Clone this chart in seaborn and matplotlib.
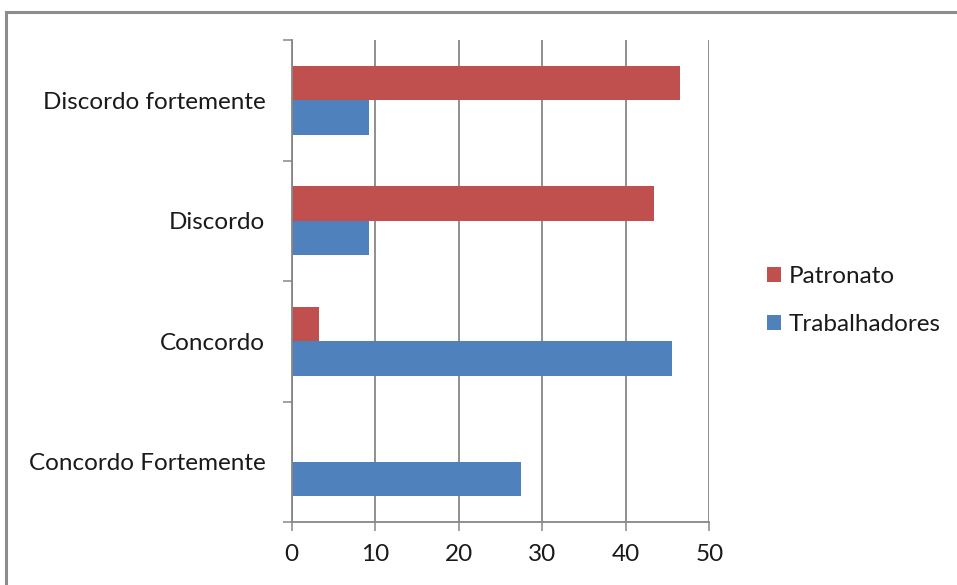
import pandas as pd
import seaborn as sns
import matplotlib.pyplot as plt
from matplotlib.patches import Rectangle

# categories top -> bottom
categories = ["Discordo fortemente", "Discordo", "Concordo", "Concordo Fortemente"]
series = ["Patronato", "Trabalhadores"]
patronato = [46.5, 43.4, 3.3, 0.0]
trabalhadores = [9.2, 9.2, 45.5, 27.4]
xticks = [0, 10, 20, 30, 40, 50]

RED = "#C0504D"
BLUE = "#4F81BD"
GRAY = "#878787"
FS = 17.5

df = pd.DataFrame({
    "categoria": categories * 2,
    "serie": [series[0]] * len(categories) + [series[1]] * len(categories),
    "valor": patronato + trabalhadores,
})

sns.set_theme(style="white")
plt.rcParams["font.family"] = ["Lato", "DejaVu Sans"]

fig = plt.figure(figsize=(9.57, 5.85), dpi=100)
ax = fig.add_axes([0.3048, 0.1077, 0.4364, 0.8239])

sns.barplot(data=df, x="valor", y="categoria", hue="serie", order=categories,
            hue_order=series, palette=[RED, BLUE], orient="h", width=0.575,
            linewidth=0, saturation=1, ax=ax)

ax.set_xlim(0, 50)
ax.set_ylim(len(categories) - 0.5, -0.5)
ax.set_xticks(xticks)
ax.set_xticklabels([str(t) for t in xticks])
ax.set_xlabel("")
ax.set_ylabel("")

# vertical gridlines
ax.grid(axis="x", color=GRAY, linewidth=1.3)
ax.grid(axis="y", visible=False)
ax.set_axisbelow(True)

for s in ["top", "right"]:
    ax.spines[s].set_visible(False)
for s in ["left", "bottom"]:
    ax.spines[s].set_color(GRAY)
    ax.spines[s].set_linewidth(1.3)

# category labels at centers without tick marks; marks at boundaries
ax.set_yticks(range(len(categories)))
ax.set_yticklabels(categories)
ax.set_yticks([i - 0.5 for i in range(len(categories) + 1)], minor=True)
ax.tick_params(axis="y", which="major", length=0, pad=19, labelsize=FS, labelcolor="#1a1a1a")
ax.tick_params(axis="y", which="minor", left=True, length=6.5, width=1.1, color=GRAY)
ax.tick_params(axis="x", which="major", bottom=True, length=6.5, width=1.1, color=GRAY,
               pad=9, labelsize=FS, labelcolor="#1a1a1a")

ax.legend(loc="center left", bbox_to_anchor=(767 / 957, 0.486), bbox_transform=fig.transFigure,
          frameon=False, fontsize=FS, handlelength=0.58, handleheight=0.58,
          borderpad=0, borderaxespad=0, handletextpad=0.3, labelspacing=1.1,
          labelcolor="#1a1a1a")

# outer chart frame
fig.patches.append(Rectangle((6 / 957, -0.05), 1.2, 1 - 12 / 585 + 0.05,
                             transform=fig.transFigure, fill=False,
                             edgecolor="#8c8c8c", linewidth=2.2))

fig.savefig("out.png", dpi=100)
